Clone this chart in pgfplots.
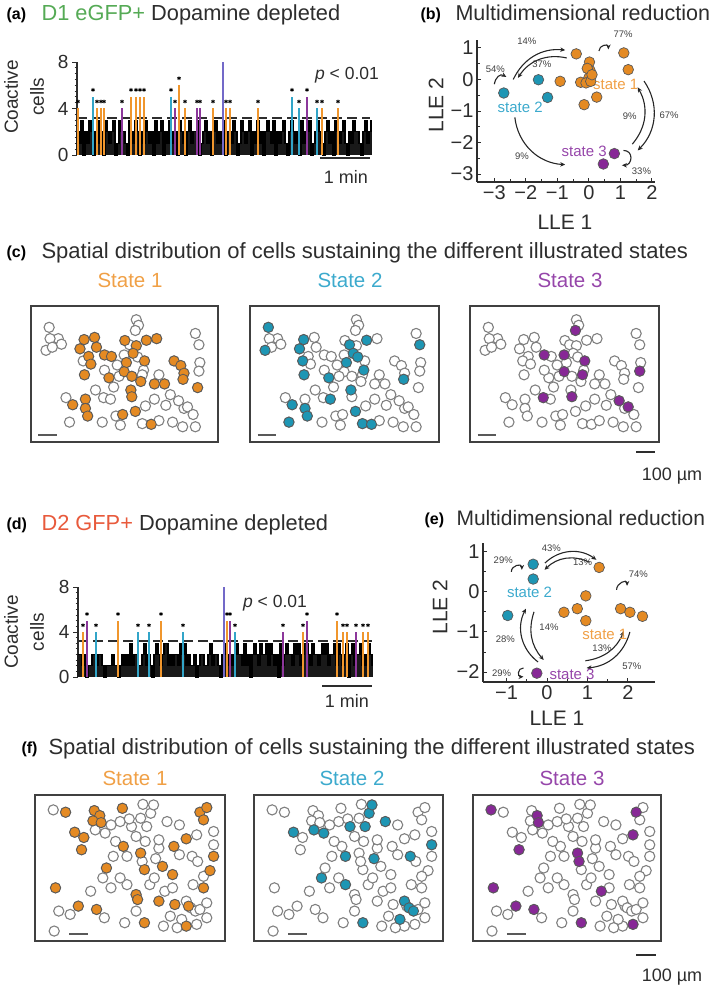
\documentclass[border=0pt]{standalone}
\usepackage{fontspec}
\setmainfont{Liberation Sans}
\usepackage{pgfplots}
\pgfplotsset{compat=1.18}
\usepackage{pgfplotstable}
\usetikzlibrary{arrows.meta}

\definecolor{orA}{RGB}{240,150,45}
\definecolor{blA}{RGB}{50,165,200}
\definecolor{puA}{RGB}{140,55,155}
\definecolor{slA}{RGB}{115,105,200}
\definecolor{orF}{RGB}{228,138,35}
\definecolor{blF}{RGB}{30,150,180}
\definecolor{puF}{RGB}{135,40,150}
\definecolor{txt}{RGB}{45,45,45}
\definecolor{grn}{RGB}{85,170,85}
\definecolor{rd}{RGB}{232,90,60}
\definecolor{orT}{RGB}{240,160,70}
\definecolor{blT}{RGB}{60,170,205}
\definecolor{puT}{RGB}{150,70,170}

\newcommand\ft[1]{\fontsize{#1}{#1}\selectfont}

% ---------- coactive-cell traces ----------
\pgfplotstableread[row sep=\\]{v\\
2\\1\\3\\0\\2\\1\\3\\2\\0\\2\\3\\1\\2\\0\\3\\2\\1\\2\\3\\0\\
1\\3\\2\\2\\1\\0\\3\\2\\1\\3\\2\\0\\2\\1\\3\\2\\1\\2\\0\\3\\
1\\2\\3\\0\\2\\1\\3\\2\\1\\2\\0\\3\\2\\1\\0\\2\\3\\1\\2\\2\\
3\\0\\1\\2\\3\\1\\2\\0\\2\\3\\1\\2\\1\\3\\0\\2\\2\\1\\3\\2\\
0\\1\\3\\2\\1\\2\\3\\0\\2\\1\\3\\1\\2\\0\\2\\3\\2\\1\\3\\0\\
2\\1\\2\\3\\1\\0\\2\\3\\2\\1\\2\\0\\3\\1\\2\\2\\3\\0\\1\\2\\
3\\2\\1\\0\\2\\3\\1\\2\\0\\3\\2\\1\\2\\3\\1\\0\\2\\1\\3\\2\\
2\\1\\0\\2\\3\\1\\2\\3\\
}\aBlk
\pgfplotstableread[row sep=\\]{v\\
2\\2\\1\\2\\0\\1\\1\\2\\2\\1\\2\\2\\1\\0\\1\\1\\1\\2\\1\\1\\
0\\1\\2\\1\\2\\1\\3\\1\\2\\2\\1\\1\\2\\3\\1\\2\\1\\0\\2\\3\\
2\\1\\2\\3\\3\\1\\2\\1\\2\\2\\1\\3\\2\\3\\1\\2\\1\\1\\2\\0\\
1\\2\\2\\1\\1\\2\\3\\1\\2\\2\\1\\0\\2\\3\\2\\1\\2\\1\\2\\3\\
2\\2\\1\\3\\1\\2\\0\\2\\3\\2\\1\\3\\2\\2\\3\\1\\3\\2\\1\\2\\
0\\3\\1\\2\\3\\2\\2\\1\\3\\2\\3\\1\\2\\3\\3\\2\\1\\3\\2\\2\\
1\\2\\3\\2\\3\\1\\2\\2\\3\\1\\3\\2\\1\\2\\3\\0\\2\\3\\1\\2\\
2\\3\\1\\2\\1\\3\\2\\1\\
}\dBlk

\pgfplotstableread{
x h
1 4
20 4
24 4
27 4
54 5
59 5
63 5
67 5
102 6
108 4
136 4
149 4
153 4
181 4
245 4
261 4
}\aOr
\pgfplotstableread{
x h
16 5
94 5
215 5
222 4
240 4
}\aBl
\pgfplotstableread{
x h
45 4
98 4
120 4
123 4
230 5
}\aPu
\pgfplotstableread{
x h
5 4
40 5
83 5
149 5
225 4
259 5
265 4
269 4
285 4
290 4
}\dOr
\pgfplotstableread{
x h
18 4
60 4
71 4
105 4
157 4
}\dBl
\pgfplotstableread{
x h
9 5
152 5
205 4
229 5
278 4
}\dPu

% ---------- spatial fields ----------
\pgfplotstableread{
x y a b c
9.7 84.3 0 1 0
8.0 67.4 0 1 0
14.6 76.0 0 0 0
10.2 76.0 0 0 0
16.3 71.9 0 0 0
11.4 69.7 0 0 0
28.4 75.3 1 1 0
34.0 76.9 1 0 0
26.2 68.5 1 1 0
35.0 69.7 1 0 0
30.8 62.9 1 0 0
27.9 59.6 0 1 0
39.3 64.0 1 0 1
43.0 62.9 1 0 0
32.0 57.3 1 0 0
28.6 49.4 1 1 0
41.7 47.2 1 1 0
56.3 89.9 0 0 0
57.5 85.8 0 0 0
55.8 82.0 0 0 1
50.2 74.6 1 0 0
52.7 71.5 0 1 0
61.7 74.8 1 1 0
67.2 76.0 1 0 0
56.3 70.8 1 0 0
54.6 65.2 1 1 0
49.8 64.0 0 0 1
60.7 59.6 1 0 1
57.0 62.5 0 1 0
51.0 58.4 1 1 0
49.8 51.7 1 0 1
60.2 52.8 0 1 0
59.5 49.4 0 0 1
53.9 48.3 1 0 0
58.7 44.5 1 0 0
53.4 38.2 1 1 0
53.9 33.3 1 0 1
66.0 42.7 1 0 0
71.4 42.7 1 0 0
39.3 52.8 0 0 0
46.1 56.6 0 0 0
87.9 79.8 0 0 0
89.8 71.5 0 1 0
90.3 58.4 0 0 0
89.8 52.1 0 0 1
76.5 59.6 1 0 0
80.1 56.2 1 0 0
81.8 50.6 1 0 0
81.3 46.1 1 1 0
89.1 40.0 1 0 0
18.7 32.6 0 0 0
22.3 27.4 1 1 0
29.1 31.5 1 0 0
29.1 24.7 1 1 0
30.3 19.1 1 1 0
20.6 14.6 0 1 0
38.8 32.6 0 0 1
42.5 31.5 0 1 0
45.4 19.1 0 0 0
47.8 12.4 0 0 0
49.0 20.2 1 0 0
55.8 22.5 1 1 0
59.5 13.5 0 1 0
64.3 13.0 1 1 0
68.4 15.7 0 0 0
75.7 14.6 0 0 0
81.1 11.2 0 0 0
81.8 24.7 0 0 0
72.1 27.0 0 0 0
78.9 30.3 0 0 1
83.7 25.8 0 0 1
86.7 20.2 0 0 0
87.9 11.2 0 0 0
34.5 38.2 0 0 0
66.0 31.5 0 0 0
47.1 48.3 0 0 0
68.4 49.4 0 0 0
74.5 34.8 0 0 0
38.1 14.6 0 0 0
61.2 26.5 0 0 0
44.2 40.4 0 0 0
}\fieldC

\pgfplotstableread{
x y a b c
9.6 89.8 0 0 1
16.1 88.2 1 0 0
31.2 89.3 1 0 0
34.1 85.9 1 0 1
30.5 82.3 1 0 0
34.8 81.1 1 0 1
46.0 90.9 1 0 0
20.9 74.5 1 1 0
25.7 70.9 1 0 0
31.7 76.1 0 1 0
36.9 73.9 0 1 0
24.5 62.5 1 0 1
37.6 50.0 1 0 0
46.5 64.8 1 0 0
50.8 78.4 0 1 0
58.8 78.4 0 1 0
60.9 87.5 0 1 0
62.4 93.2 0 1 0
69.5 81.8 0 1 0
48.4 58.0 0 1 0
55.6 60.2 1 0 1
57.6 48.9 1 0 0
56.4 54.5 0 0 1
63.5 56.4 0 1 0
67.1 51.1 1 0 0
72.4 45.5 1 0 0
73.1 64.8 1 0 0
79.6 70.0 1 0 0
82.7 58.0 0 1 0
94.0 65.9 0 1 0
86.8 88.2 1 0 1
90.4 91.4 1 0 0
88.7 83.0 1 0 0
85.1 72.7 0 0 1
94.0 58.0 1 0 0
92.1 48.2 1 0 0
88.7 36.4 1 0 0
10.8 36.4 1 0 1
35.7 43.2 0 1 0
48.4 38.6 0 1 0
53.2 31.8 1 0 0
54.0 28.4 1 0 0
68.3 34.1 0 0 1
65.2 27.3 1 0 0
73.6 25.0 1 0 0
80.8 23.9 1 0 0
79.6 27.3 0 1 0
82.0 22.7 0 1 0
84.4 20.5 0 1 0
79.6 10.2 1 0 0
85.1 11.4 0 0 1
57.6 12.5 1 1 1
77.2 14.8 0 1 0
22.8 23.9 1 0 1
32.4 21.6 1 0 1
10.1 6.8 0 0 0
18.5 18.2 0 0 0
47.2 12.5 0 0 0
56.8 93.6 0 0 0
55.6 84.1 0 0 0
44.8 81.8 0 0 0
49.6 83.6 0 0 0
76.0 79.5 0 0 0
53.2 71.6 0 0 0
58.0 68.2 0 0 0
65.2 63.6 0 0 0
65.2 69.3 0 0 0
76.0 59.1 0 0 0
85.6 54.5 0 0 0
88.7 44.3 0 0 0
94.0 75.0 0 0 0
72.4 36.4 0 0 0
83.2 38.6 0 0 0
44.8 43.2 0 0 0
40.0 36.4 0 0 0
60.4 38.6 0 0 0
62.8 43.2 0 0 0
71.2 17.0 0 0 0
67.6 10.2 0 0 0
74.8 9.1 0 0 0
86.8 21.6 0 0 0
90.4 26.1 0 0 0
42.4 68.2 0 0 0
41.2 58.0 0 0 0
12.5 20.5 0 0 0
36.5 15.9 0 0 0
53.2 20.5 0 0 0
90.4 15.9 0 0 0
40.0 79.5 0 0 0
29.3 34.1 0 0 0
}\fieldF

\pgfplotsset{
  every axis/.append style={enlargelimits=false, /pgf/number format/assume math mode=true},
  every tick label/.append style={font=\ft{19}, text=txt},
  trace/.style={at={(#1)}, anchor=south west, scale only axis, xmin=0, xmax=293, ymin=0, ymax=8,
    axis x line=none, axis y line=left, axis line style={-, line width=1.1pt, txt},
    ytick={0,4,8}, minor y tick num=7, tick align=outside, major tick length=5pt, minor tick length=2.5pt,
    every tick/.style={txt, line width=0.9pt}, clip=false},
  lle/.style={anchor=south west, scale only axis, axis lines=left, axis line style={-, line width=1.2pt, txt},
    minor tick num=1, tick align=inside, major tick length=4pt, minor tick length=2.5pt,
    every tick/.style={txt, line width=0.9pt}, clip=false,
    every tick label/.append style={font=\ft{20}}},
  ev/.style={ycomb, no marks, line width=2.4pt, #1},
  star/.style={only marks, mark=asterisk, mark size=1.9pt, black, line width=0.8pt},
  blk/.style={const plot, black, line width=1.1pt},
  blkc/.style={ycomb, no marks, black!90, line width=1.35pt},
  pt/.style={only marks, mark=*, mark size=5.3pt, mark options={draw=black!65, fill=#1, line width=0.7pt}},
}
\tikzset{tr/.style={-{Stealth[length=5pt,width=4.5pt]}, line width=1.1pt, black!85},
  pc/.style={font=\ft{9.5}, text=black!75}}

\newcommand{\spbox}[8]{%
\begin{axis}[at={(#1pt,#2pt)}, anchor=south west, scale only axis, width=#3pt, height=#4pt,
  xmin=0, xmax=100, ymin=0, ymax=100, xtick=\empty, ytick=\empty,
  axis line style={line width=1.7pt, black!75}, clip=false]
\addplot[only marks, mark=*, mark size=5.1pt, mark options={draw=black!50, fill=white, line width=1.1pt}] table[x=x,y=y]{#5};
\addplot[only marks, mark=*, mark size=5.1pt, mark options={draw=black!65, fill=#7, line width=0.8pt},
  restrict expr to domain={\thisrow{#6}}{0.5:1.5}] table[x=x,y=y]{#5};
\draw[line width=1.7pt, black!65] (axis cs:#8,5) -- (axis cs:#8+10,5);
\end{axis}}

\begin{document}
\begin{tikzpicture}[x=1pt,y=1pt]
\path[use as bounding box] (0,0) rectangle (709,990);

% ================= (a) =================
\node[anchor=base west, font=\ft{16}\bfseries] at (3,970) {(a)};
\node[anchor=base west, font=\ft{21.8}, text=txt] at (38,969.5) {\textcolor{grn}{D1 eGFP+} Dopamine depleted};
\node[rotate=90, align=center, font=\fontsize{19}{26}\selectfont, text=txt] at (24,893) {Coactive\\cells};
\begin{axis}[trace={77pt,835pt}, width=293pt, height=93pt]
\addplot[blkc] table[x expr=2*\coordindex, y=v]{\aBlk};
\addplot[blk] table[x expr=2*\coordindex, y=v]{\aBlk};
\addplot[dash pattern=on 10pt off 5pt, line width=1.5pt, txt] coordinates {(0,3.2) (293,3.2)};
\addplot[ev=orA] table[x=x,y=h]{\aOr};
\addplot[ev=blA] table[x=x,y=h]{\aBl};
\addplot[ev=puA] table[x=x,y=h]{\aPu};
\addplot[ev=slA] coordinates {(146,8)};
\addplot[star] table[x=x, y expr=\thisrow{h}+0.6]{\aOr};
\addplot[star] table[x=x, y expr=\thisrow{h}+0.6]{\aBl};
\addplot[star] table[x=x, y expr=\thisrow{h}+0.6]{\aPu};
\end{axis}
\node[font=\ft{17.5}, text=txt] at (347,915) {\textit{p} < 0.01};
\draw[line width=1.5pt, txt] (320,832) -- (370,832);
\node[font=\ft{18}, text=txt] at (346,813) {1 min};

% ================= (b) =================
\node[anchor=base west, font=\ft{16}\bfseries] at (417,970) {(b)};
\node[anchor=base west, font=\ft{21.5}, text=txt] at (452,969.5) {Multidimensional reduction};
\begin{axis}[lle, at={(477pt,808pt)}, width=178pt, height=142pt,
  xmin=-3.55, xmax=2.1, ymin=-3.25, ymax=1.25,
  xtick={-3,-2,-1,0,1,2}, xticklabels={−3,−2,−1,0,1,2},
  ytick={-3,-2,-1,0,1}, yticklabels={−3,−2,−1,0,1}]
\draw[tr] (axis cs:-2.4,0.0) to[bend left=35] (axis cs:-0.75,0.93);
\draw[tr] (axis cs:-0.7,0.68) to[bend right=35] (axis cs:-2.25,0.05);
\draw[tr] (axis cs:-3.0,-0.15) to[out=80,in=150,looseness=1.3] (axis cs:-2.62,0.08);
\draw[tr] (axis cs:0.32,0.9) to[out=90,in=90,looseness=1.6] (axis cs:0.62,0.95);
\draw[tr] (axis cs:1.75,-0.05) to[bend left=40] (axis cs:1.55,-2.25);
\draw[tr] (axis cs:1.38,-2.05) to[bend right=35] (axis cs:1.55,-0.25);
\draw[tr] (axis cs:-2.35,-1.2) to[bend right=40] (axis cs:-0.75,-2.7);
\draw[tr] (axis cs:1.1,-2.25) to[out=0,in=0,looseness=1.8] (axis cs:1.05,-2.72);
\addplot[pt=orF] coordinates {(-0.40,0.81) (0.02,0.55) (0.04,0.28) (-0.05,0.35) (0.00,0.05) (1.11,0.84) (1.25,0.31) (-0.91,-0.06) (-0.26,-0.09) (-0.09,-0.11) (0.06,-0.06) (0.25,-0.56) (-0.15,-0.80) (0.10,0.15)};
\addplot[pt=blF] coordinates {(-2.70,-0.43) (-1.60,-0.01) (-1.31,-0.57)};
\addplot[pt=puF] coordinates {(0.81,-2.35) (0.46,-2.68)};
\node[pc] at (axis cs:-1.97,1.21) {14\%};
\node[pc] at (axis cs:-1.49,0.47) {37\%};
\node[pc] at (axis cs:-2.97,0.33) {54\%};
\node[pc] at (axis cs:1.09,1.42) {77\%};
\node[pc] at (axis cs:1.30,-1.17) {9\%};
\node[pc] at (axis cs:2.55,-1.12) {67\%};
\node[pc] at (axis cs:1.67,-2.92) {33\%};
\node[pc] at (axis cs:-2.12,-2.44) {9\%};
\node[font=\ft{15}, text=orT] at (axis cs:0.85,-0.16) {state 1};
\node[font=\ft{15}, text=blT] at (axis cs:-2.18,-0.90) {state 2};
\node[font=\ft{15}, text=puT] at (axis cs:-0.15,-2.28) {state 3};
\end{axis}
\node[rotate=90, font=\ft{21}, text=txt] at (436,885) {LLE 2};
\node[font=\ft{21}, text=txt] at (565,768) {LLE 1};

% ================= (c) =================
\node[anchor=base west, font=\ft{16}\bfseries] at (3,732) {(c)};
\node[anchor=base west, font=\ft{22}, text=txt] at (38,731.5) {Spatial distribution of cells sustaining the different illustrated states};
\node[font=\ft{20.5}, text=orT] at (130,710) {State 1};
\node[font=\ft{20.5}, text=blT] at (350,710) {State 2};
\node[font=\ft{20.5}, text=puT] at (570,710) {State 3};
\spbox{31}{548}{187}{136}{\fieldC}{a}{orF}{4}
\spbox{250}{548}{189}{136}{\fieldC}{b}{blF}{4}
\spbox{470}{548}{189}{136}{\fieldC}{c}{puF}{4}
\draw[line width=1.8pt, txt] (636,538) -- (655,538);
\node[font=\ft{18}, text=txt] at (672,514) {100 µm};

% ================= (d) =================
\node[anchor=base west, font=\ft{16}\bfseries] at (3,460) {(d)};
\node[anchor=base west, font=\ft{21.8}, text=txt] at (38,459.5) {\textcolor{rd}{D2 GFP+} Dopamine depleted};
\node[rotate=90, align=center, font=\fontsize{19}{26}\selectfont, text=txt] at (24,358) {Coactive\\cells};
\begin{axis}[trace={78pt,313pt}, width=294pt, height=90pt, xmax=294]
\addplot[blkc] table[x expr=2*\coordindex, y=v]{\dBlk};
\addplot[blk] table[x expr=2*\coordindex, y=v]{\dBlk};
\addplot[dash pattern=on 10pt off 5pt, line width=1.5pt, txt] coordinates {(0,3.2) (294,3.2)};
\addplot[ev=orA] table[x=x,y=h]{\dOr};
\addplot[ev=blA] table[x=x,y=h]{\dBl};
\addplot[ev=puA] table[x=x,y=h]{\dPu};
\addplot[ev=slA] coordinates {(146,8)};
\addplot[star] table[x=x, y expr=\thisrow{h}+0.6]{\dOr};
\addplot[star] table[x=x, y expr=\thisrow{h}+0.6]{\dBl};
\addplot[star] table[x=x, y expr=\thisrow{h}+0.6]{\dPu};
\end{axis}
\node[font=\ft{17.5}, text=txt] at (275,387) {\textit{p} < 0.01};
\draw[line width=1.5pt, txt] (322,304) -- (372,304);
\node[font=\ft{18}, text=txt] at (347,289) {1 min};

% ================= (e) =================
\node[anchor=base west, font=\ft{16}\bfseries] at (421,465) {(e)};
\node[anchor=base west, font=\ft{21}, text=txt] at (453,464.5) {Multidimensional reduction};
\begin{axis}[lle, at={(483pt,308pt)}, width=172pt, height=139pt,
  xmin=-1.58, xmax=2.67, ymin=-2.25, ymax=1.22,
  xtick={-1,0,1,2}, xticklabels={−1,0,1,2},
  ytick={-2,-1,0,1}, yticklabels={−2,−1,0,1}]
\draw[tr] (axis cs:-0.05,0.72) to[bend left=40] (axis cs:1.22,0.8);
\draw[tr] (axis cs:1.05,0.74) to[bend right=35] (axis cs:-0.06,0.55);
\draw[tr] (axis cs:-0.88,0.5) to[out=90,in=90,looseness=1.6] (axis cs:-0.62,0.55);
\draw[tr] (axis cs:1.72,0.05) to[out=90,in=90,looseness=1.6] (axis cs:1.98,0.15);
\draw[tr] (axis cs:-0.22,-1.75) to[bend left=40] (axis cs:-0.52,-0.42);
\draw[tr] (axis cs:-0.32,-0.5) to[bend right=30] (axis cs:-0.08,-1.7);
\draw[tr] (axis cs:2.05,-1.0) to[bend left=35] (axis cs:0.98,-1.9);
\draw[tr] (axis cs:0.95,-1.72) to[bend right=30] (axis cs:1.9,-0.98);
\draw[tr] (axis cs:-0.58,-1.9) to[out=180,in=180,looseness=1.8] (axis cs:-0.58,-2.12);
\addplot[pt=blF] coordinates {(-0.34,0.69) (-0.34,0.32) (-0.97,-0.59)};
\addplot[pt=orF] coordinates {(1.29,0.61) (0.96,-0.10) (0.42,-0.51) (0.75,-0.42) (0.96,-0.72) (1.82,-0.42) (2.05,-0.51) (2.36,-0.61)};
\addplot[pt=puF] coordinates {(-0.25,-2.03)};
\node[pc] at (axis cs:-1.08,0.8) {29\%};
\node[pc] at (axis cs:0.11,1.1) {43\%};
\node[pc] at (axis cs:0.88,0.74) {13\%};
\node[pc] at (axis cs:2.26,0.45) {74\%};
\node[pc] at (axis cs:0.05,-0.89) {14\%};
\node[pc] at (axis cs:-1.03,-1.19) {28\%};
\node[pc] at (axis cs:1.36,-1.4) {13\%};
\node[pc] at (axis cs:2.1,-1.85) {57\%};
\node[pc] at (axis cs:-1.12,-2.03) {29\%};
\node[font=\ft{15}, text=blT] at (axis cs:-0.43,0.0) {state 2};
\node[font=\ft{15}, text=orT] at (axis cs:1.43,-1.06) {state 1};
\node[font=\ft{15}, text=puT] at (axis cs:0.62,-2.05) {state 3};
\end{axis}
\node[rotate=90, font=\ft{21}, text=txt] at (440,383) {LLE 2};
\node[font=\ft{21}, text=txt] at (557,272) {LLE 1};

% ================= (f) =================
\node[anchor=base west, font=\ft{16}\bfseries] at (18,236) {(f)};
\node[anchor=base west, font=\ft{22}, text=txt] at (45,235.5) {Spatial distribution of cells sustaining the different illustrated states};
\node[font=\ft{20.5}, text=orT] at (135,212) {State 1};
\node[font=\ft{20.5}, text=blT] at (352,212) {State 2};
\node[font=\ft{20.5}, text=puT] at (572,212) {State 3};
\spbox{35}{49}{190}{146}{\fieldF}{a}{orF}{18}
\spbox{254}{49}{189}{146}{\fieldF}{b}{blF}{18}
\spbox{473}{49}{188}{146}{\fieldF}{c}{puF}{18}
\draw[line width=1.8pt, txt] (636,35) -- (656,35);
\node[font=\ft{18}, text=txt] at (672,13) {100 µm};
\end{tikzpicture}
\end{document}
